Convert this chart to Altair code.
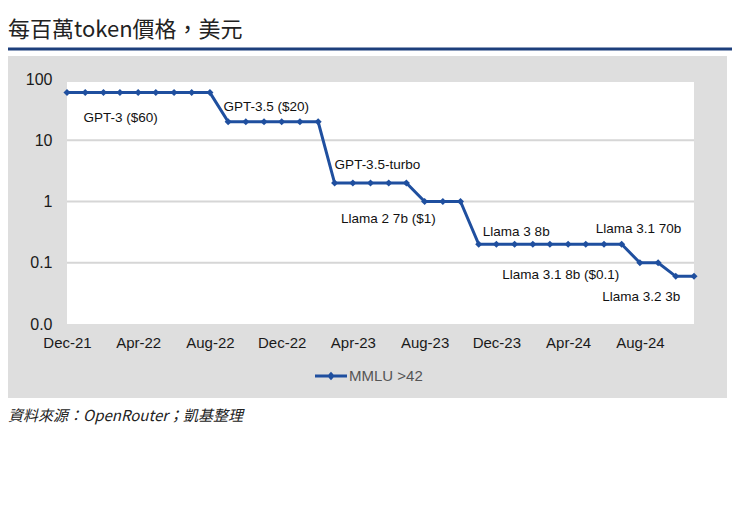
import altair as alt
import pandas as pd

# ---------------- data ----------------
months = [
    "2021-12-01", "2022-01-01", "2022-02-01", "2022-03-01", "2022-04-01", "2022-05-01",
    "2022-06-01", "2022-07-01", "2022-08-01", "2022-09-01", "2022-10-01", "2022-11-01",
    "2022-12-01", "2023-01-01", "2023-02-01", "2023-03-01", "2023-04-01", "2023-05-01",
    "2023-06-01", "2023-07-01", "2023-08-01", "2023-09-01", "2023-10-01", "2023-11-01",
    "2023-12-01", "2024-01-01", "2024-02-01", "2024-03-01", "2024-04-01", "2024-05-01",
    "2024-06-01", "2024-07-01", "2024-08-01", "2024-09-01", "2024-10-01", "2024-11-01",
]
prices = [
    60, 60, 60, 60, 60, 60, 60, 60, 60,
    20, 20, 20, 20, 20, 20,
    2, 2, 2, 2, 2,
    1, 1, 1,
    0.2, 0.2, 0.2, 0.2, 0.2, 0.2, 0.2, 0.2, 0.2,
    0.1, 0.1,
    0.06, 0.06,
]
series_name = "MMLU >42"

ann_labels = ["GPT-3 ($60)", "GPT-3.5 ($20)", "GPT-3.5-turbo", "Llama 2 7b ($1)",
              "Llama 3 8b", "Llama 3.1 70b", "Llama 3.1 8b ($0.1)", "Llama 3.2 3b"]
ann_dates = ["2021-12-29", "2022-08-24", "2023-03-01", "2023-03-12",
             "2023-11-08", "2024-05-18", "2023-12-11", "2024-05-29"]
ann_prices = [23, 35, 3.95, 0.52, 0.32, 0.355, 0.063, 0.0276]

grid_levels = [10, 1, 0.1]
y_ticks = [100, 10, 1, 0.1, 0.01]
x_ticks = [(2021, 12), (2022, 4), (2022, 8), (2022, 12), (2023, 4),
           (2023, 8), (2023, 12), (2024, 4), (2024, 8)]

title_text = "每百萬token價格，美元"
source_text = "資料來源：OpenRouter；凱基整理"

# ---------------- styling ----------------
BLUE = "#1f4f9f"
GRAY_BG = "#dedede"
NARROW = "Liberation Sans Narrow, Liberation Sans, Arial, sans-serif"
CJK = "Noto Sans CJK TC, Noto Sans, sans-serif"
W, H = 627, 245

df = pd.DataFrame({"date": months, "price": prices, "series": [series_name] * len(months)})
ann = pd.DataFrame({"date": ann_dates, "price": ann_prices, "label": ann_labels})
grid = pd.DataFrame({"price": grid_levels})
one = pd.DataFrame({"k": [0]})

x_enc = alt.X(
    "date:T",
    scale=alt.Scale(
        type="utc",
        domain=[alt.DateTime(year=2021, month=12, date=1, utc=True),
                alt.DateTime(year=2024, month=11, date=1, utc=True)],
    ),
    axis=alt.Axis(
        values=[alt.DateTime(year=y, month=m, date=1, utc=True) for y, m in x_ticks],
        format="%b-%y", title=None, domain=False, ticks=False, grid=False,
        labelFont=NARROW, labelFontSize=15, labelColor="#1a1a1a", labelPadding=11,
        labelOverlap=False, labelFlush=False, zindex=1,
    ),
)
y_enc = alt.Y(
    "price:Q",
    scale=alt.Scale(type="log", domain=[0.01, 100], nice=False),
    axis=alt.Axis(
        values=y_ticks, title=None, domain=False, ticks=False, grid=False,
        labelExpr="datum.value >= 1 ? format(datum.value, 'd') : (datum.value >= 0.1 ? '0.1' : '0.0')",
        labelFont=NARROW, labelFontSize=16, labelColor="#1a1a1a", labelPadding=15,
        zindex=1,
    ),
)

gray_box = alt.Chart(one).mark_rect(color=GRAY_BG).encode(
    x=alt.value(-59), x2=alt.value(660), y=alt.value(-23), y2=alt.value(319)
)
white_box = alt.Chart(one).mark_rect(color="white").encode(
    x=alt.value(0), x2=alt.value(W), y=alt.value(3), y2=alt.value(H)
)
grid_rules = alt.Chart(grid).mark_rule(color="#d6d6d6", strokeWidth=2).encode(
    y=y_enc, x=alt.value(0), x2=alt.value(W)
)
line = alt.Chart(df).mark_line(color=BLUE, strokeWidth=3).encode(x=x_enc, y=y_enc)
legend_symbol = "M-1,-0.09H1V0.09H-1Z M0,-0.26L0.24,0L0,0.26L-0.24,0Z"
points = alt.Chart(df).mark_point(shape="diamond", filled=True, size=50, opacity=1).encode(
    x=x_enc, y=y_enc,
    color=alt.Color(
        "series:N",
        scale=alt.Scale(range=[BLUE]),
        legend=alt.Legend(
            title=None, orient="none", legendX=248, legendY=281,
            symbolType=legend_symbol, symbolSize=1024, symbolStrokeWidth=0,
            labelFont=NARROW, labelFontSize=15, labelColor="#555555",
            labelOffset=2, zindex=1,
        ),
    ),
)
labels = alt.Chart(ann).mark_text(
    align="left", baseline="middle", font=NARROW, fontSize=13.5, color="#111111"
).encode(x=x_enc, y=y_enc, text="label:N")

title_mark = alt.Chart(one).mark_text(
    align="left", baseline="middle", font=CJK, fontSize=22, color="#222222"
).encode(x=alt.value(-59), y=alt.value(-49), text=alt.value(title_text))
underline = alt.Chart(one).mark_rule(color="#1d3f7c", strokeWidth=3).encode(
    x=alt.value(-59), x2=alt.value(665), y=alt.value(-30)
)
source_mark = alt.Chart(one).mark_text(
    align="left", baseline="middle", font=CJK, fontSize=15, fontStyle="italic", color="#222222"
).encode(x=alt.value(-59), y=alt.value(337), text=alt.value(source_text))

chart = alt.layer(
    gray_box, white_box, grid_rules, line, points, labels, title_mark, underline, source_mark
).properties(
    width=W, height=H,
    autosize=alt.AutoSizeParams(type="none"),
    padding={"left": 59, "top": 71, "right": 38, "bottom": 114},
    background="white",
).configure_view(stroke="transparent")

chart.save("out.html", embed_options={"renderer": "svg", "actions": False})
